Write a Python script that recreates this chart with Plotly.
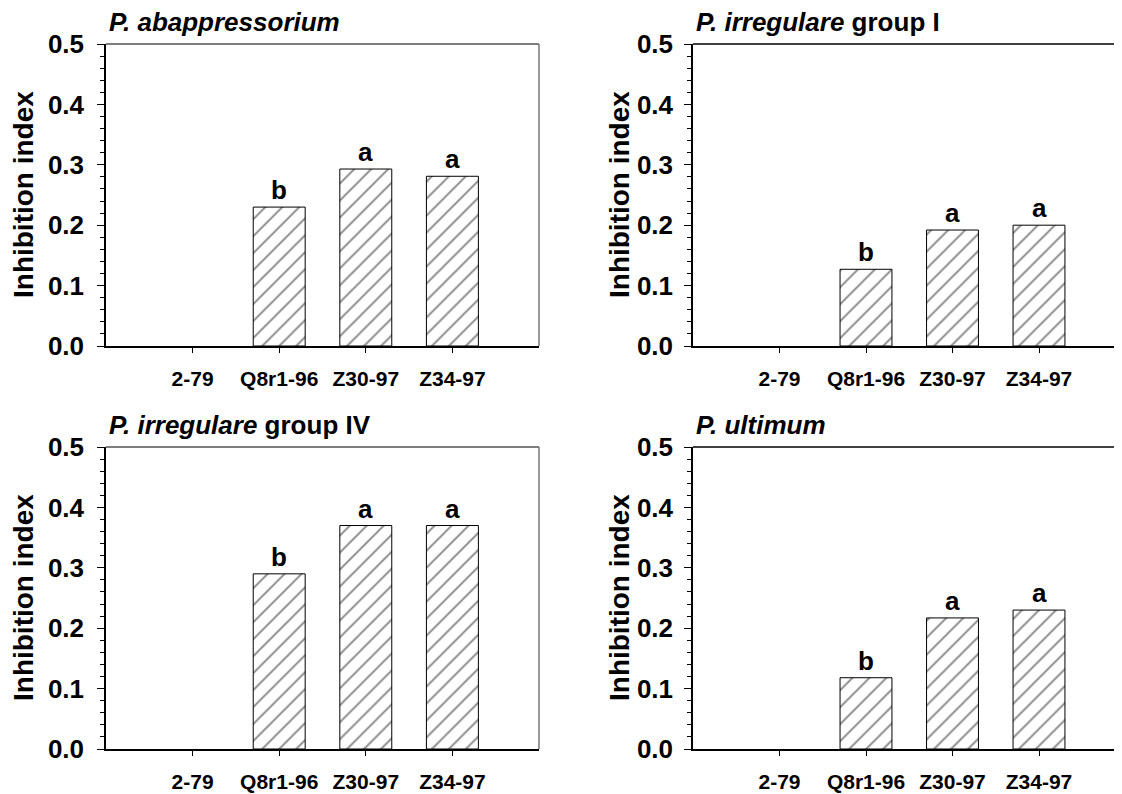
import plotly.graph_objects as go

categories = ["2-79", "Q8r1-96", "Z30-97", "Z34-97"]

titles = [
    "<i>P. abappressorium</i>",
    "<i>P. irregulare</i> group I",
    "<i>P. irregulare</i> group IV",
    "<i>P. ultimum</i>",
]

abappressorium = [None, 0.230, 0.293, 0.281]
irregulare_I = [None, 0.127, 0.192, 0.200]
irregulare_IV = [None, 0.290, 0.370, 0.370]
ultimum = [None, 0.118, 0.217, 0.230]

letters_abappressorium = ["", "b", "a", "a"]
letters_irregulare_I = ["", "b", "a", "a"]
letters_irregulare_IV = ["", "b", "a", "a"]
letters_ultimum = ["", "b", "a", "a"]

series = [abappressorium, irregulare_I, irregulare_IV, ultimum]
letters = [letters_abappressorium, letters_irregulare_I, letters_irregulare_IV, letters_ultimum]

# page body has an 8px margin; the figure is sized to fill the rest of the window
OFF = 8
W, H = 1122 - OFF, 794 - OFF
FONT = "Liberation Sans, Arial, sans-serif"

# panel pixel boxes in window coordinates (left, right, top, bottom)
boxes = [
    (106, 539, 44, 346),
    (693, 1122, 44, 346),
    (106, 539, 447, 749),
    (693, 1122, 447, 749),
]
px_per_unit = 86.5


def fx(p):
    return (p - OFF) / W


def fy(p):
    return (H - (p - OFF)) / H


fig = go.Figure()
annotations = []
xpos = [1, 2, 3, 4]

for i, (vals, lets, title, box) in enumerate(zip(series, letters, titles, boxes)):
    L, R, T, B = box
    xa = "x" if i == 0 else f"x{i+1}"
    ya = "y" if i == 0 else f"y{i+1}"
    fig.add_trace(go.Bar(
        x=xpos, y=vals, width=0.6,
        marker=dict(color="white",
                    line=dict(color="black", width=1),
                    pattern=dict(shape="/", fgcolor="black", bgcolor="white",
                                 size=12, solidity=0.14)),
        xaxis=xa, yaxis=ya, showlegend=False,
    ))
    left_panel = (i % 2 == 0)
    xrange = [0, 5] if left_panel else [0, (R - L) / px_per_unit]
    xdom = [fx(L), min(fx(R), 1.0)]
    ydom = [fy(B), fy(T)]
    suffix = "" if i == 0 else str(i + 1)
    fig.update_layout(**{
        "xaxis" + suffix: dict(
            domain=xdom, range=xrange, anchor=ya, automargin=False,
            tickmode="array", tickvals=xpos, ticktext=categories,
            ticks="outside", ticklen=5, tickcolor="black",
            showline=True, linecolor="black", linewidth=1.5,
            mirror=False, showgrid=False, zeroline=False,
            tickfont=dict(family=FONT, size=21, color="black", weight="bold"),
            ticklabelstandoff=8,
        ),
        "yaxis" + suffix: dict(
            domain=ydom, range=[0, 0.5], anchor=xa, automargin=False,
            tickmode="array", tickvals=[0, 0.1, 0.2, 0.3, 0.4, 0.5],
            ticktext=["0.0", "0.1", "0.2", "0.3", "0.4", "0.5"],
            ticks="outside", ticklen=7, tickcolor="black",
            minor=dict(ticks="outside", ticklen=4, dtick=0.02, tick0=0, tickcolor="black"),
            showline=True, linecolor="black", linewidth=1.5,
            showgrid=False, zeroline=False,
            tickfont=dict(family=FONT, size=26, color="black", weight="bold"),
            ticklabelstandoff=8 if left_panel else 6,
        ),
    })
    # top frame line (and right frame line for left panels)
    fig.add_shape(type="line", xref="paper", yref="paper",
                  x0=fx(L), x1=min(fx(R), 1.0), y0=fy(T), y1=fy(T),
                  line=dict(color="#555555" if left_panel else "black", width=1.5))
    if left_panel:
        fig.add_shape(type="line", xref="paper", yref="paper",
                      x0=fx(R), x1=fx(R), y0=fy(B), y1=fy(T),
                      line=dict(color="#777777", width=1.5))
    # panel title
    annotations.append(dict(
        text=title, xref="paper", yref="paper",
        x=fx(L + 1), y=fy(T - 6), xanchor="left", yanchor="bottom",
        height=28, valign="middle",
        showarrow=False, font=dict(family=FONT, size=26, color="black", weight="bold"),
    ))
    # y-axis title
    off = 83 if left_panel else 74
    annotations.append(dict(
        text="Inhibition index", xref="paper", yref="paper",
        x=fx(L - off), y=fy((T + B) / 2), xanchor="center", yanchor="middle",
        textangle=-90, height=28, valign="middle", showarrow=False,
        font=dict(family=FONT, size=28, color="black", weight="bold"),
    ))
    # significance letters
    for xp, v, t in zip(xpos, vals, lets):
        if v is None or not t:
            continue
        annotations.append(dict(
            text=t, x=xp, y=v, xref=xa, yref=ya,
            xanchor="center", yanchor="bottom", yshift=0,
            showarrow=False, font=dict(family=FONT, size=26, color="black", weight="bold"),
        ))

fig.update_layout(
    width=W, height=H, margin=dict(l=0, r=0, t=0, b=0, autoexpand=False),
    paper_bgcolor="white", plot_bgcolor="white",
    annotations=annotations, bargap=0.4,
)

fig.write_html("out.html")
